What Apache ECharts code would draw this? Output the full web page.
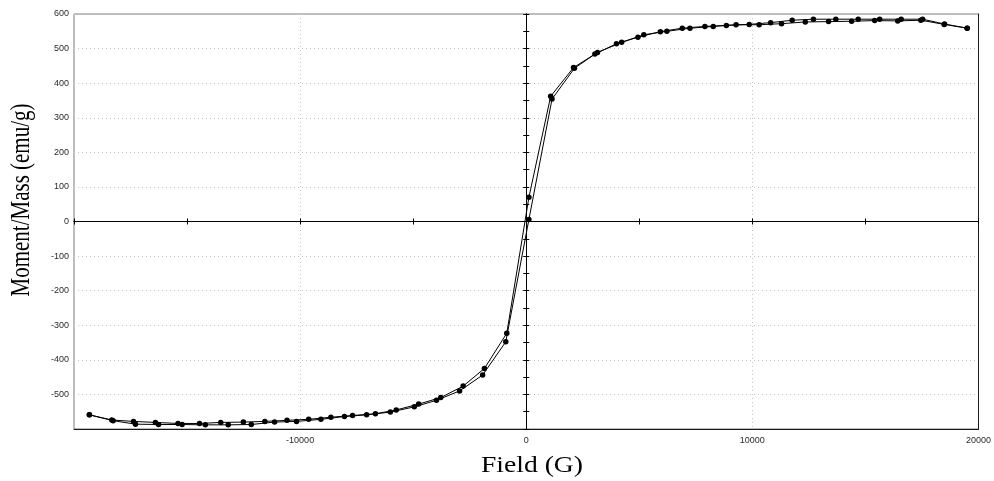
<!DOCTYPE html>
<html>
<head>
<meta charset="utf-8">
<script src="https://cdn.jsdelivr.net/npm/echarts@6/dist/echarts.min.js"></script>
<style>
  html, body { margin: 0; padding: 0; background: #fff; }
  #chart { width: 994px; height: 481px; }
</style>
</head>
<body>
<div id="chart"></div>
<script>
// Hysteresis loop: moment per mass vs applied field.
// Descending branch, from +max field to -max field.
const fieldDown = [19500, 18500, 17530, 16580, 15630, 14680, 13690, 12700, 11760, 10810,
  9860, 8850, 7900, 6900, 5930, 4940, 3990, 3035, 2090, 1080, 118,
  -860, -1850, -2790, -3780, -4760, -5750, -6670, -7680, -8640, -9620,
  -10580, -11560, -12510, -13510, -14450, -15400, -16400, -17370, -18330, -19320];
const momentDown = [559, 571, 585, 585, 585, 585, 585, 585, 582, 575,
  570, 567, 564, 559, 549, 533, 514, 484, 445, 362, 70,
  -323, -425, -476, -509, -528, -545, -556, -561, -566, -572,
  -575, -578, -580, -581, -584, -584, -581, -578, -574, -559];

// Ascending branch, from -max field back to +max field.
const fieldUp = [-19320, -18270, -17280, -16260, -15220, -14190, -13180, -12160, -11130, -10160,
  -9080, -8040, -7060, -6010, -4950, -3970, -2950, -1930, -905, 118,
  1140, 2130, 3150, 4220, 5200, 6220, 7240, 8270, 9280, 10300,
  11290, 12340, 13370, 14390, 15410, 16430, 17450, 18480, 19500];
const momentUp = [-559, -576, -586, -587, -587, -588, -588, -587, -580, -578,
  -572, -564, -559, -551, -536, -517, -490, -444, -348, 6,
  354, 443, 489, 518, 540, 550, 559, 564, 569, 569,
  572, 577, 578, 579, 581, 580, 582, 570, 559];

// Axis ranges and labelled ticks
const xRange = [-20000, 20000];
const yRange = [-600, 600];
const xTickStep = 10000;
const yTickStep = 100;
const hiddenXLabels = [-20000];
const hiddenYLabels = [-600];

const xTitle = 'Field (G)';
const yTitle = 'Moment/Mass (emu/g)';

const pairs = (xs, ys) => xs.map((x, i) => [x, ys[i]]);

const labelFont = { fontFamily: 'Liberation Sans, Arial, sans-serif', fontSize: 9, color: '#2a2a2a' };
const gridDots = { color: '#c4c4c4', width: 1, type: [1, 3] };

// Zero-crossing axis lines with small ticks on both sides
const zeroX = (inside) => ({
  type: 'value', min: xRange[0], max: xRange[1], interval: 5000,
  axisLine: { show: true, onZero: true, onZeroAxisIndex: 0, lineStyle: { color: '#000', width: 1 } },
  axisTick: { show: true, inside: inside, length: 3, lineStyle: { color: '#000' } },
  axisLabel: { show: false }, splitLine: { show: false }
});
const zeroY = (inside) => ({
  type: 'value', min: yRange[0], max: yRange[1], interval: 50,
  axisLine: { show: true, onZero: true, onZeroAxisIndex: 0, lineStyle: { color: '#000', width: 1 } },
  axisTick: { show: true, inside: inside, length: 3, lineStyle: { color: '#000' } },
  axisLabel: { show: false }, splitLine: { show: false }
});

const seriesStyle = {
  type: 'line',
  xAxisIndex: 0, yAxisIndex: 0,
  symbol: 'circle', symbolSize: 5.5,
  showAllSymbol: true,
  itemStyle: { color: '#000' },
  lineStyle: { color: '#000', width: 1 },
  z: 5
};

const chart = echarts.init(document.getElementById('chart'), null, { renderer: 'canvas' });
chart.setOption({
  animation: false,
  backgroundColor: '#fff',
  grid: { left: 74, right: 11, top: 14, bottom: 52, show: true, borderColor: '#7a7a7a', borderWidth: 1, backgroundColor: 'transparent' },
  xAxis: [
    {
      type: 'value', min: xRange[0], max: xRange[1], interval: xTickStep, position: 'bottom',
      axisLine: { show: true, onZero: false, lineStyle: { color: '#1a1a1a', width: 1 } },
      axisTick: { show: false },
      axisLabel: Object.assign({ margin: 7, formatter: v => hiddenXLabels.includes(v) ? '' : String(v) }, labelFont),
      splitLine: { show: true, lineStyle: gridDots }
    },
    zeroX(true),
    zeroX(false)
  ],
  yAxis: [
    {
      type: 'value', min: yRange[0], max: yRange[1], interval: yTickStep, position: 'left',
      axisLine: { show: false, onZero: false },
      axisTick: { show: false },
      axisLabel: Object.assign({ margin: 5, formatter: v => hiddenYLabels.includes(v) ? '' : String(v) }, labelFont),
      splitLine: { show: true, lineStyle: gridDots }
    },
    zeroY(true),
    zeroY(false),
    {
      type: 'value', min: yRange[0], max: yRange[1], position: 'right',
      axisLine: { show: true, onZero: false, lineStyle: { color: '#1a1a1a', width: 1 } },
      axisTick: { show: false }, axisLabel: { show: false }, splitLine: { show: false }
    }
  ],
  graphic: [
    {
      type: 'text', x: 532, y: 466, scaleX: 1.15,
      style: { text: xTitle, font: '24px "Liberation Serif", "Times New Roman", serif', fill: '#000', align: 'center', verticalAlign: 'middle' }
    },
    {
      type: 'text', x: 22, y: 200, rotation: Math.PI / 2, scaleY: 1.3,
      style: { text: yTitle, font: '21px "Liberation Serif", "Times New Roman", serif', fill: '#000', align: 'center', verticalAlign: 'middle' }
    }
  ],
  series: [
    Object.assign({ name: 'descending', data: pairs(fieldDown, momentDown) }, seriesStyle),
    Object.assign({ name: 'ascending', data: pairs(fieldUp, momentUp) }, seriesStyle)
  ]
});
</script>
</body>
</html>
